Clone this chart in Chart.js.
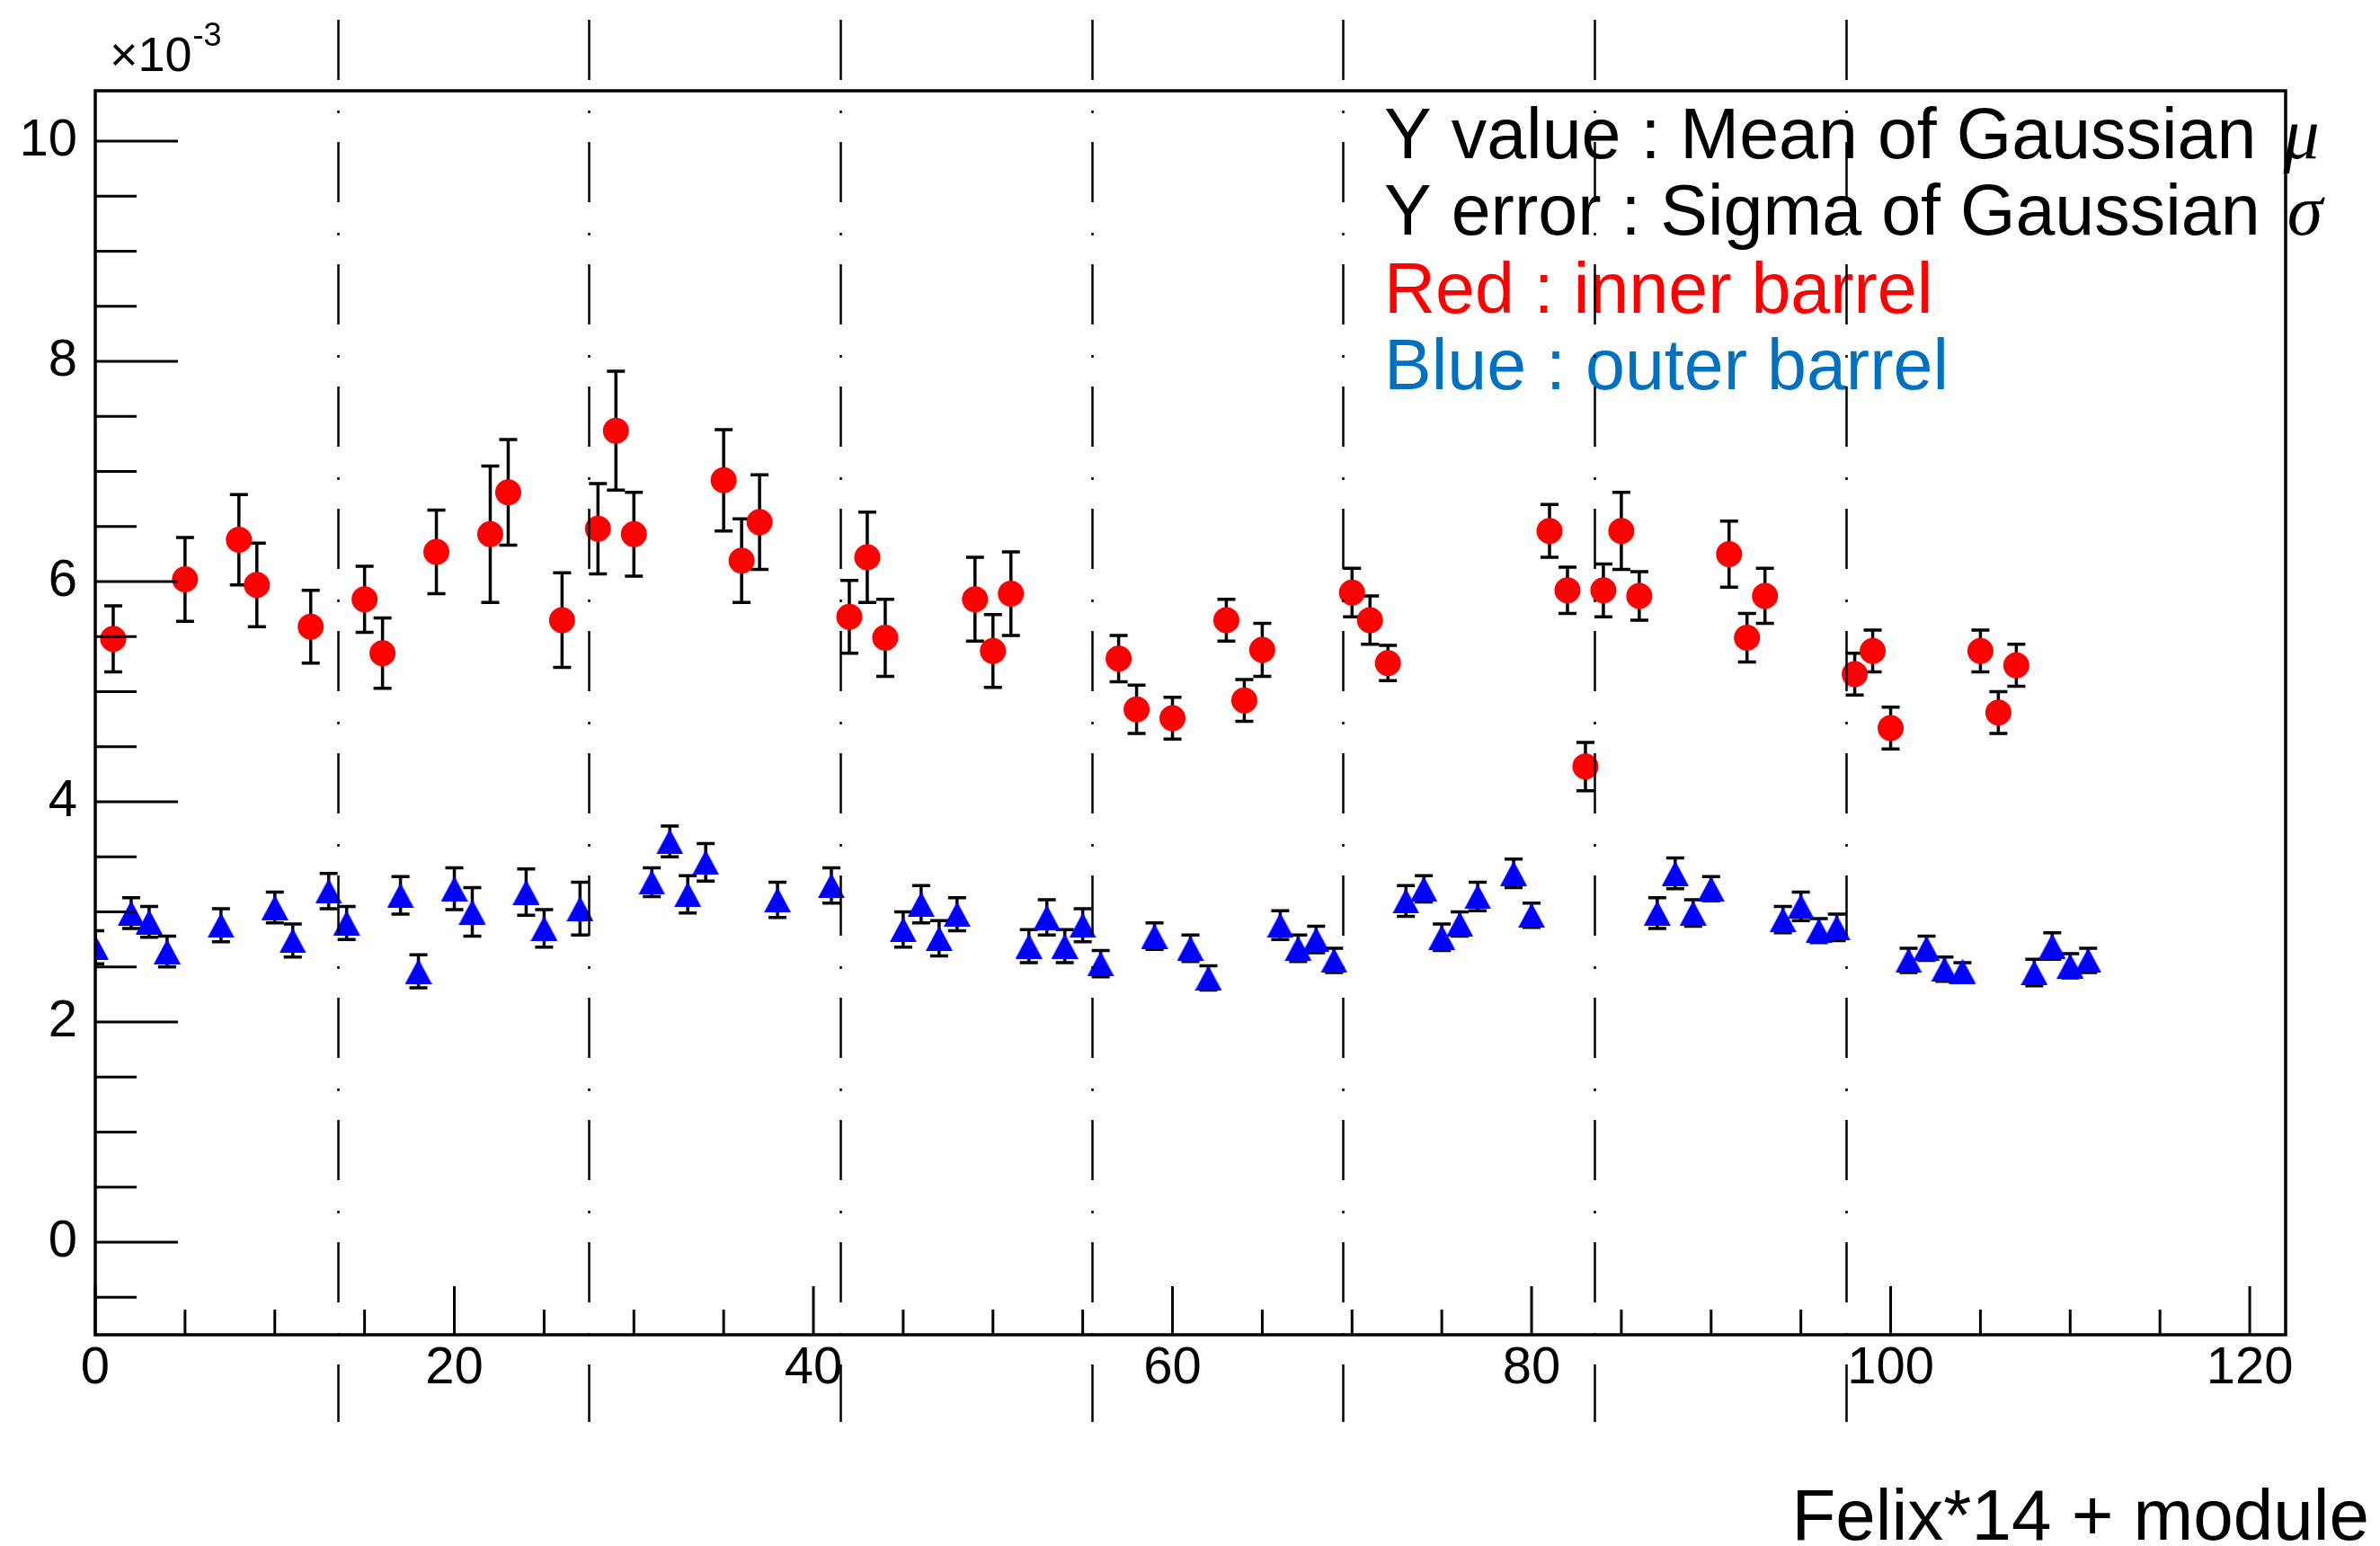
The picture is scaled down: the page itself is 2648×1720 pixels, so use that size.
<!DOCTYPE html>
<html lang="en">
<head>
<meta charset="UTF-8">
<title>Mean of Gaussian per module</title>
<script src="https://cdn.jsdelivr.net/npm/chart.js@4"></script>
<style>
  html, body { margin: 0; padding: 0; background: #fff; }
</style>
</head>
<body>
<canvas id="meanChart" width="2648" height="1720"></canvas>
<script>
// values in units of 1e-3
const innerModule = [1, 5, 8, 9, 12, 15, 16, 19, 22, 23, 26, 28, 29, 30, 35, 36, 37, 42, 43, 44, 49, 50, 51,
  57, 58, 60, 63, 64, 65, 70, 71, 72, 81, 82, 83, 84, 85, 86, 91, 92, 93, 98, 99, 100, 105, 106, 107];
const innerMean = [5.48, 6.02, 6.38, 5.97, 5.59, 5.84, 5.35, 6.27, 6.43, 6.81, 5.65, 6.48, 7.37, 6.43, 6.92, 6.19, 6.54,
  5.68, 6.22, 5.49, 5.84, 5.37, 5.89, 5.30, 4.84, 4.76, 5.65, 4.92, 5.38, 5.90, 5.65, 5.26,
  6.46, 5.92, 4.32, 5.92, 6.46, 5.87, 6.25, 5.49, 5.87, 5.16, 5.37, 4.67, 5.37, 4.81, 5.24];
const innerSigma = [0.30, 0.38, 0.41, 0.38, 0.33, 0.30, 0.32, 0.38, 0.62, 0.48, 0.43, 0.41, 0.54, 0.38, 0.46, 0.38, 0.43,
  0.33, 0.41, 0.35, 0.38, 0.33, 0.38, 0.21, 0.22, 0.19, 0.19, 0.19, 0.24, 0.22, 0.22, 0.16,
  0.24, 0.21, 0.22, 0.24, 0.35, 0.22, 0.30, 0.22, 0.25, 0.19, 0.19, 0.19, 0.19, 0.19, 0.19];

const outerModule = [0, 2, 3, 4, 7, 10, 11, 13, 14, 17, 18, 20, 21, 24, 25, 27, 31, 32, 33, 34, 38, 41, 45, 46, 47, 48,
  52, 53, 54, 55, 56, 59, 61, 62, 66, 67, 68, 69, 73, 74, 75, 76, 77, 79, 80, 87, 88, 89, 90,
  94, 95, 96, 97, 101, 102, 103, 104, 108, 109, 110, 111];
const outerMean = [2.68, 2.99, 2.91, 2.64, 2.88, 3.04, 2.74, 3.19, 2.90, 3.15, 2.46, 3.21, 3.00, 3.18, 2.85, 3.03,
  3.27, 3.64, 3.16, 3.45, 3.11, 3.24, 2.84, 3.07, 2.76, 2.98,
  2.69, 2.95, 2.69, 2.88, 2.53, 2.78, 2.67, 2.40, 2.88, 2.67, 2.75, 2.56, 3.10, 3.21, 2.77, 2.89, 3.14, 3.35, 2.97,
  2.99, 3.35, 2.99, 3.21, 2.93, 3.05, 2.83, 2.86, 2.56, 2.67, 2.48, 2.46, 2.45, 2.69, 2.51, 2.56];
const outerSigma = [0.15, 0.14, 0.14, 0.14, 0.15, 0.14, 0.15, 0.16, 0.15, 0.17, 0.15, 0.19, 0.22, 0.21, 0.17, 0.24,
  0.13, 0.14, 0.17, 0.17, 0.16, 0.16, 0.16, 0.17, 0.16, 0.15,
  0.15, 0.16, 0.15, 0.15, 0.12, 0.12, 0.12, 0.11, 0.13, 0.12, 0.12, 0.11, 0.14, 0.12, 0.12, 0.11, 0.13, 0.13, 0.11,
  0.14, 0.14, 0.12, 0.11, 0.12, 0.13, 0.11, 0.12, 0.11, 0.11, 0.11, 0.08, 0.12, 0.12, 0.11, 0.11];

const felixBounds = [13.5, 27.5, 41.5, 55.5, 69.5, 83.5, 97.5];

const noteLines = ['Y value : Mean of Gaussian ', 'Y error : Sigma of Gaussian ', 'Red : inner barrel', 'Blue : outer barrel'];
const noteGreek = ['\u03bc', '\u03c3', '', ''];
const noteColors = ['#000000', '#000000', '#ff0000', '#0070c0'];
const xTitle = 'Felix*14 + module';

const SANS = '"Liberation Sans", Arial, Helvetica, sans-serif';

function points(xs, ys) {
  return xs.map((x, i) => ({ x: x, y: ys[i] }));
}

// ROOT-like full triangle marker (bounding box centred on the point)
function triangleMarker(w, h, color) {
  const c = document.createElement('canvas');
  c.width = w; c.height = h;
  const g = c.getContext('2d');
  g.fillStyle = color;
  g.beginPath();
  g.moveTo(w / 2, 0);
  g.lineTo(w, h);
  g.lineTo(0, h);
  g.closePath();
  g.fill();
  return c;
}

const sigmas = [innerSigma, outerSigma];

// error bars under the markers
const errorBars = {
  id: 'errorBars',
  beforeDatasetsDraw(chart) {
    const ctx = chart.ctx, xs = chart.scales.x, ys = chart.scales.y, a = chart.chartArea;
    ctx.save();
    ctx.beginPath();
    ctx.rect(a.left, a.top, a.right - a.left, a.bottom - a.top);
    ctx.clip();
    ctx.strokeStyle = '#000';
    ctx.lineWidth = 3.5;
    chart.data.datasets.forEach((ds, k) => {
      ds.data.forEach((p, i) => {
        const px = xs.getPixelForValue(p.x);
        const top = ys.getPixelForValue(p.y + sigmas[k][i]);
        const bot = ys.getPixelForValue(p.y - sigmas[k][i]);
        ctx.beginPath();
        ctx.moveTo(px, top); ctx.lineTo(px, bot);
        ctx.moveTo(px - 10, top); ctx.lineTo(px + 10, top);
        ctx.moveTo(px - 10, bot); ctx.lineTo(px + 10, bot);
        ctx.stroke();
      });
    });
    ctx.restore();
  }
};

// inside ticks, frame, felix separators and texts
const decorations = {
  id: 'decorations',
  afterDatasetsDraw(chart) {
    const ctx = chart.ctx, xs = chart.scales.x, ys = chart.scales.y, a = chart.chartArea;
    ctx.save();
    ctx.strokeStyle = '#000';
    ctx.lineWidth = 3;
    ctx.beginPath();
    ys.ticks.forEach(t => {
      const py = ys.getPixelForValue(t.value);
      const len = t.label !== '' ? 92 : 46;
      ctx.moveTo(a.left, py); ctx.lineTo(a.left + len, py);
    });
    xs.ticks.forEach(t => {
      const px = xs.getPixelForValue(t.value);
      const len = t.label !== '' ? 54 : 28;
      ctx.moveTo(px, a.bottom); ctx.lineTo(px, a.bottom - len);
    });
    ctx.stroke();

    ctx.lineWidth = 3.5;
    ctx.strokeRect(a.left, a.top, a.right - a.left, a.bottom - a.top);

    // notes
    ctx.textBaseline = 'alphabetic';
    ctx.textAlign = 'left';
    const baselines = [176, 261, 348, 433];
    noteLines.forEach((s, i) => {
      ctx.font = '79px ' + SANS;
      ctx.fillStyle = noteColors[i];
      ctx.fillText(s, 1540, baselines[i]);
      if (noteGreek[i]) {
        const w = ctx.measureText(s).width;
        ctx.font = 'italic 80px "Liberation Serif", "Times New Roman", serif';
        ctx.fillText(noteGreek[i], 1540 + w + 8, baselines[i]);
      }
    });

    // exponent label
    ctx.fillStyle = '#000';
    ctx.font = '54px ' + SANS;
    ctx.fillText('\u00d710', 122, 79);
    const w10 = ctx.measureText('\u00d710').width;
    ctx.font = '36px ' + SANS;
    ctx.fillText('-3', 122 + w10 + 1, 51);

    // axis title
    ctx.font = '80px ' + SANS;
    ctx.textAlign = 'right';
    ctx.fillText(xTitle, 2636, 1713);

    // felix boundaries
    ctx.lineWidth = 2.5;
    ctx.setLineDash([67, 34, 3, 32]);
    ctx.beginPath();
    felixBounds.forEach(b => {
      const px = Math.round(xs.getPixelForValue(b)) + 0.5;
      ctx.moveTo(px, -114);
      ctx.lineTo(px, 1582);
    });
    ctx.stroke();
    ctx.restore();
  }
};

const tickFont = { family: SANS, size: 58 };

new Chart(document.getElementById('meanChart'), {
  type: 'scatter',
  data: {
    datasets: [
      {
        label: 'inner barrel',
        data: points(innerModule, innerMean),
        pointStyle: 'circle',
        pointRadius: 14.5,
        pointHoverRadius: 14.5,
        backgroundColor: '#ff0000',
        borderWidth: 0,
        clip: 0
      },
      {
        label: 'outer barrel',
        data: points(outerModule, outerMean),
        pointStyle: triangleMarker(30, 28, '#0000ff'),
        pointRadius: 14,
        backgroundColor: '#0000ff',
        borderWidth: 0,
        clip: 0
      }
    ]
  },
  options: {
    responsive: false,
    animation: false,
    devicePixelRatio: 1,
    layout: { padding: { left: 0, top: 101, right: 105, bottom: 0 } },
    plugins: {
      legend: { display: false },
      tooltip: { enabled: false }
    },
    scales: {
      x: {
        type: 'linear',
        min: 0,
        max: 122,
        afterFit: s => { s.height = 235; },
        grid: { display: false, drawTicks: false },
        border: { display: false },
        ticks: {
          stepSize: 5,
          includeBounds: false,
          autoSkip: false,
          maxRotation: 0,
          padding: 3,
          color: '#000',
          font: tickFont,
          callback: v => (Math.round(v) % 20 === 0 ? String(v) : '')
        }
      },
      y: {
        type: 'linear',
        min: -0.84,
        max: 10.457,
        afterFit: s => { s.width = 106; },
        grid: { display: false, drawTicks: false },
        border: { display: false },
        ticks: {
          stepSize: 0.5,
          includeBounds: false,
          autoSkip: false,
          padding: 20,
          color: '#000',
          font: tickFont,
          callback: v => (Math.round(v * 2) % 4 === 0 ? String(Math.round(v)) : '')
        }
      }
    }
  },
  plugins: [errorBars, decorations]
});
</script>
</body>
</html>
